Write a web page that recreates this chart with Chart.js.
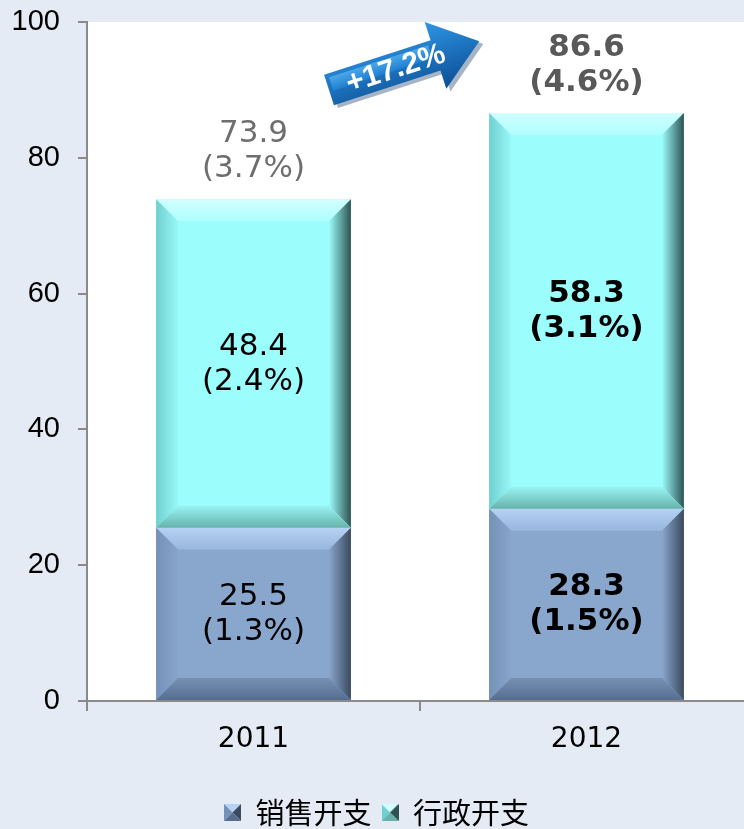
<!DOCTYPE html>
<html>
<head>
<meta charset="utf-8">
<script src="https://cdn.jsdelivr.net/npm/chart.js@4.4.0/dist/chart.umd.min.js"></script>
<style>
html, body { margin: 0; padding: 0; background: #e4ebf4; overflow: hidden; }
#wrap { width: 770px; height: 829px; position: relative; }
</style>
</head>
<body>
<div id="wrap"><canvas id="chart1"></canvas></div>
<script>
const years = ['2011', '2012'];
const salesCost = [25.5, 28.3];
const salesShare = ['1.3%', '1.5%'];
const adminCost = [48.4, 58.3];
const adminShare = ['2.4%', '3.1%'];
const totalCost = [73.9, 86.6];
const totalShare = ['3.7%', '4.6%'];
const growthText = '+17.2%';

const shares = [salesShare, adminShare];
const fontFam = '"DejaVu Sans", Verdana, sans-serif';

// bevel colours for each series
const bevels = [
  { top: ['#b6d2f4', '#98b6dc'], left: ['#7591b8', '#87a4ca'], right: ['#89a6cc', '#3a4a60'], bottom: ['#7690b4', '#556e90'] },
  { top: ['#d2ffff', '#aefefe'], left: ['#70d0d0', '#98f8f8'], right: ['#9cfdfd', '#2e5252'], bottom: ['#98f4f4', '#66b2aa'] }
];

function poly(ctx, pts, fill) {
  ctx.beginPath();
  ctx.moveTo(pts[0][0], pts[0][1]);
  for (let k = 1; k < pts.length; k++) ctx.lineTo(pts[k][0], pts[k][1]);
  ctx.closePath();
  ctx.fillStyle = fill;
  ctx.fill();
}

function grad(ctx, x0, y0, x1, y1, c) {
  const g = ctx.createLinearGradient(x0, y0, x1, y1);
  g.addColorStop(0, c[0]);
  g.addColorStop(1, c[1]);
  return g;
}

function drawBevel(ctx, l, t, r, b, s, c) {
  poly(ctx, [[l, t], [r, t], [r - s, t + s], [l + s, t + s]], grad(ctx, 0, t, 0, t + s, c.top));
  poly(ctx, [[l, t], [l + s, t + s], [l + s, b - s], [l, b]], grad(ctx, l, 0, l + s, 0, c.left));
  poly(ctx, [[r, t], [r, b], [r - s, b - s], [r - s, t + s]], grad(ctx, r - s, 0, r, 0, c.right));
  poly(ctx, [[l, b], [l + s, b - s], [r - s, b - s], [r, b]], grad(ctx, 0, b - s, 0, b, c.bottom));
}

function makeMarker(c) {
  const cv = document.createElement('canvas');
  cv.width = 17; cv.height = 17;
  const g = cv.getContext('2d');
  const n = 17, m = 8.5;
  poly(g, [[0, 0], [n, 0], [m, m]], c.top[0]);
  poly(g, [[0, 0], [m, m], [0, n]], c.left[0]);
  poly(g, [[n, 0], [n, n], [m, m]], c.right[1]);
  poly(g, [[0, n], [m, m], [n, n]], c.bottom[1]);
  return cv;
}

const markers = [makeMarker(bevels[0]), makeMarker(bevels[1])];

const plotBg = {
  id: 'plotBg',
  beforeDraw(chart) {
    const a = chart.chartArea;
    chart.ctx.save();
    chart.ctx.fillStyle = '#ffffff';
    chart.ctx.fillRect(a.left, a.top, a.right - a.left, a.bottom - a.top);
    chart.ctx.restore();
  }
};

const barDeco = {
  id: 'barDeco',
  afterDatasetsDraw(chart) {
    const ctx = chart.ctx;
    ctx.save();
    chart.data.datasets.forEach((ds, di) => {
      chart.getDatasetMeta(di).data.forEach((bar) => {
        const l = bar.x - bar.width / 2, r = bar.x + bar.width / 2;
        const t = Math.min(bar.y, bar.base), b = Math.max(bar.y, bar.base);
        drawBevel(ctx, l, t, r, b, 22, bevels[di]);
      });
    });
    ctx.textAlign = 'center';
    ctx.textBaseline = 'middle';
    chart.data.datasets.forEach((ds, di) => {
      chart.getDatasetMeta(di).data.forEach((bar, i) => {
        const cy = (bar.y + bar.base) / 2;
        ctx.font = (i === 1 ? 'bold ' : '') + '31px ' + fontFam;
        ctx.fillStyle = '#000000';
        ctx.fillText(ds.data[i].toFixed(1), bar.x, cy - 17);
        ctx.fillText('(' + shares[di][i] + ')', bar.x, cy + 18);
      });
    });
    const ys = chart.scales.y;
    chart.getDatasetMeta(1).data.forEach((bar, i) => {
      const ty = ys.getPixelForValue(totalCost[i]);
      ctx.font = (i === 1 ? 'bold ' : '') + '31px ' + fontFam;
      ctx.fillStyle = i === 1 ? '#595959' : '#6e6e6e';
      ctx.fillText(totalCost[i].toFixed(1), bar.x, ty - 65);
      ctx.fillText('(' + totalShare[i] + ')', bar.x, ty - 30);
    });
    ctx.restore();
  }
};

// growth arrow between the two totals
const growthArrow = {
  id: 'growthArrow',
  afterDraw(chart) {
    const ctx = chart.ctx;
    const a = chart.chartArea;
    const x0 = a.left + 242, y0 = 90;
    const ang = -18 * Math.PI / 180;
    const L = 158, bh = 16, hh = 35, hl = 46;
    ctx.save();
    ctx.translate(x0, y0);
    ctx.rotate(ang);
    const shape = [[0, -bh], [L - hl, -bh], [L - hl, -hh], [L, 0], [L - hl, hh], [L - hl, bh], [0, bh]];
    ctx.save();
    ctx.translate(3, 4);
    poly(ctx, shape, 'rgba(0,40,90,0.35)');
    ctx.restore();
    poly(ctx, shape, grad(ctx, 0, -hh, 0, hh, ['#2f96e6', '#0b4f94']));
    poly(ctx, [[4, -bh + 4], [L - hl - 4, -bh + 4], [L - hl - 4, 2], [4, 2]], grad(ctx, 0, -bh, 0, 2, ['#5ab2f2', '#1f7fd0']));
    ctx.fillStyle = '#ffffff';
    ctx.font = 'bold 30px "Liberation Sans", Arial, sans-serif';
    ctx.textAlign = 'center';
    ctx.textBaseline = 'middle';
    ctx.fillText(growthText, 70, 1);
    ctx.restore();
  }
};

const data1 = {
  labels: years,
  datasets: [
    {
      label: '销售开支',
      data: salesCost,
      backgroundColor: '#89a6cc',
      borderWidth: 0
    },
    {
      label: '行政开支',
      data: adminCost,
      backgroundColor: '#9cfdfd',
      borderWidth: 0
    }
  ]
};

const config1 = {
  type: 'bar',
  data: data1,
  options: {
    responsive: true,
    maintainAspectRatio: false,
    animation: false,
    barPercentage: 0.585,
    categoryPercentage: 1,
    layout: { padding: { top: 22, right: 17, left: 0, bottom: -8 } },
    scales: {
      x: {
        stacked: true,
        grid: { drawOnChartArea: false, tickLength: 10, color: '#8a8a8a', lineWidth: 2 },
        border: { color: '#8a8a8a', width: 2 },
        ticks: { color: '#000000', padding: 12, font: { family: fontFam, size: 28 } },
        afterFit: (s) => { s.height = 87; }
      },
      y: {
        stacked: true,
        min: 0,
        max: 100,
        grid: { drawOnChartArea: false, tickLength: 9, color: '#8a8a8a', lineWidth: 2 },
        border: { color: '#8a8a8a', width: 2 },
        ticks: { stepSize: 20, color: '#000000', padding: 18, font: { family: '"Liberation Sans", Arial, sans-serif', size: 29 } },
        afterFit: (s) => { s.width = 87; s.paddingTop = 0; s.paddingBottom = 0; }
      }
    },
    plugins: {
      tooltip: { enabled: false },
      legend: {
        position: 'bottom',
        labels: {
          usePointStyle: true,
          boxWidth: 17,
          boxHeight: 17,
          padding: 10,
          color: '#000000',
          font: { family: '"Noto Sans CJK SC", sans-serif', size: 29 },
          generateLabels: (chart) => chart.data.datasets.map((ds, i) => ({
            text: ds.label,
            fillStyle: ds.backgroundColor,
            strokeStyle: ds.backgroundColor,
            lineWidth: 0,
            pointStyle: markers[i],
            hidden: false,
            datasetIndex: i,
            fontColor: '#000000'
          }))
        }
      }
    }
  },
  plugins: [plotBg, barDeco, growthArrow]
};

const chart1 = new Chart(document.getElementById('chart1'), config1);
</script>
</body>
</html>
